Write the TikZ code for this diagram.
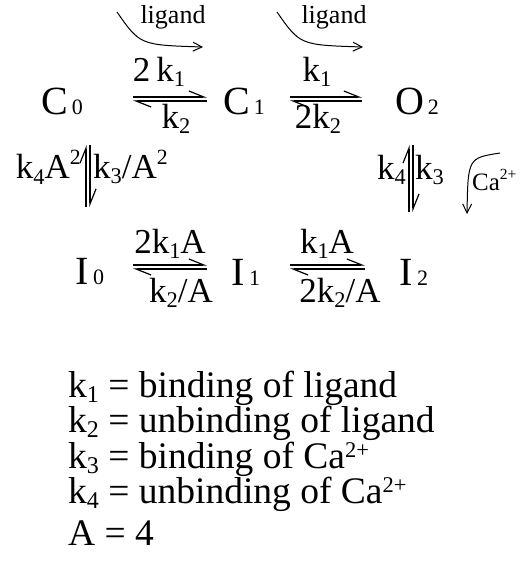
\documentclass[tikz,border=0pt]{standalone}
\usepackage{graphicx}
\usepackage{fontspec}
\setmainfont{Liberation Serif}
\usetikzlibrary{arrows.meta}
\newcommand\bsub[1]{\kern0.1em{\scalebox{0.55}{#1}}}
\newcommand\dn[1]{\raisebox{-0.33ex}{\scalebox{0.64}{#1}}}
\newcommand\upr[1]{\raisebox{0.9ex}{\scalebox{0.62}{#1}}}
\newcommand\uprl[1]{\raisebox{0.62ex}{\scalebox{0.6}{#1}}}
\tikzset{
  sp/.style={inner sep=0pt, font=\fontsize{40}{40}\selectfont},
  rate/.style={inner sep=0pt, font=\fontsize{35}{35}\selectfont},
  lig/.style={inner sep=0pt, font=\fontsize{26}{26}\selectfont},
  leg/.style={inner sep=0pt, anchor=base west, font=\fontsize{37.5}{37.5}\selectfont},
  harp/.style={line width=1.2pt, -{Straight Barb[harpoon, length=15pt, width=12pt, line width=1.2pt]}},
  curv/.style={line width=1pt, -{Straight Barb[length=9pt, width=9pt, line width=1pt]}}
}
\begin{document}
\begin{tikzpicture}[x=1pt, y=-1pt]
\useasboundingbox (0,0) rectangle (527,582);
% species
\node[sp] (c0) at (62,101) {C\bsub{0}};
\node[sp] (c1) at (244,101) {C\bsub{1}};
\node[sp] (o2) at (417,101) {O\bsub{2}};
\node[sp] (i0) at (90,272) {I\bsub{0}};
\node[sp] (i1) at (246,272) {I\bsub{1}};
\node[sp] (i2) at (414,272) {I\bsub{2}};
% harpoon coordinates
\coordinate (a1l) at (133,97);  \coordinate (a1r) at (207,97);
\coordinate (b1l) at (133,101); \coordinate (b1r) at (207,101);
\coordinate (a2l) at (290,97);  \coordinate (a2r) at (362,97);
\coordinate (b2l) at (290,101); \coordinate (b2r) at (362,101);
\coordinate (a3l) at (133,265); \coordinate (a3r) at (207,265);
\coordinate (b3l) at (133,269); \coordinate (b3r) at (207,269);
\coordinate (a4l) at (290,265); \coordinate (a4r) at (365,265);
\coordinate (b4l) at (290,269); \coordinate (b4r) at (365,269);
\coordinate (v1t) at (86,145);  \coordinate (v1b) at (86,207);
\coordinate (w1t) at (90,145);  \coordinate (w1b) at (90,207);
\coordinate (v2t) at (409,145); \coordinate (v2b) at (409,212);
\coordinate (w2t) at (413,145); \coordinate (w2b) at (413,212);
\draw[harp] (a1l) -- (a1r); \draw[harp] (b1r) -- (b1l);
\draw[harp] (a2l) -- (a2r); \draw[harp] (b2r) -- (b2l);
\draw[harp] (a3l) -- (a3r); \draw[harp] (b3r) -- (b3l);
\draw[harp] (a4l) -- (a4r); \draw[harp] (b4r) -- (b4l);
\draw[harp] (v1b) -- (v1t); \draw[harp] (w1t) -- (w1b);
\draw[harp] (v2b) -- (v2t); \draw[harp] (w2t) -- (w2b);
% rate labels
\node[rate] (r1) at (159,72) {2\,k\dn{1}};
\node[rate] (r2) at (176,119) {k\dn{2}};
\node[rate] (r3) at (317,72) {k\dn{1}};
\node[rate] (r4) at (318,119) {2k\dn{2}};
\node[rate, anchor=east] (r5) at (81,167) {k\dn{4}A\upr{2}};
\node[rate, anchor=west] (r6) at (93,167) {k\dn{3}/A\upr{2}};
\node[rate, anchor=east] (r7) at (406,170) {k\dn{4}};
\node[rate, anchor=west] (r8) at (415,170) {k\dn{3}};
\node[rate] (r9) at (170,244) {2k\dn{1}A};
\node[rate] (r10) at (181,293) {k\dn{2}/A};
\node[rate] (r11) at (327,244) {k\dn{1}A};
\node[rate] (r12) at (340,293) {2k\dn{2}/A};
% ligand and calcium
\node[lig] (l1) at (173,17) {ligand};
\node[lig] (l2) at (334,17) {ligand};
\coordinate (l1s) at (117,12); \coordinate (l1e) at (203,47);
\coordinate (l2s) at (277,12); \coordinate (l2e) at (363,47);
\draw[curv] (l1s) .. controls (140,45) .. (l1e);
\draw[curv] (l2s) .. controls (300,45) .. (l2e);
\node[lig, anchor=west, font=\fontsize{25}{25}\selectfont] (ca) at (472,180) {Ca\upr{2+}};
\coordinate (cas) at (500,153); \coordinate (cae) at (467,214);
\draw[curv] (cas) .. controls (468,158) .. (cae);
% legend
\node[leg] (g1) at (68,397) {k\dn{1} = binding of ligand};
\node[leg] (g2) at (68,432) {k\dn{2} = unbinding of ligand};
\node[leg] (g3) at (68,468) {k\dn{3} = binding of Ca\uprl{2+}};
\node[leg] (g4) at (68,503) {k\dn{4} = unbinding of Ca\uprl{2+}};
\node[leg] (g5) at (68,545) {A = 4};
\end{tikzpicture}
\end{document}
